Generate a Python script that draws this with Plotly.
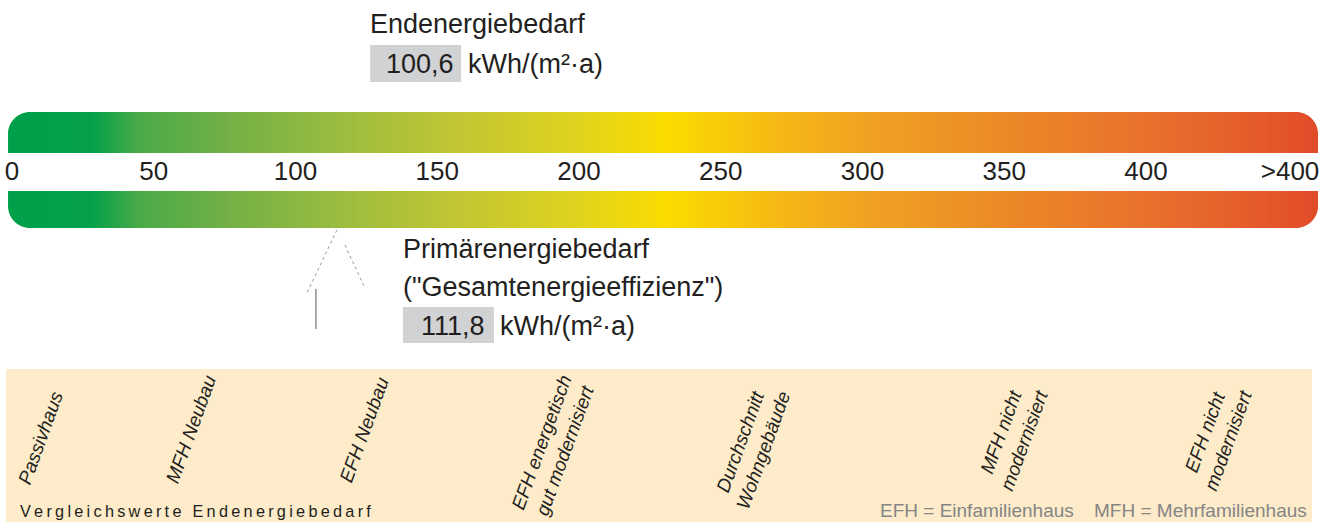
import numpy as np
import plotly.graph_objects as go

# ---------------- data ----------------
scale_ticks = [0, 50, 100, 150, 200, 250, 300, 350, 400, 450.8]
scale_tick_labels = ["0", "50", "100", "150", "200", "250", "300", "350", "400", ">400"]
scale_start = -1.4
scale_end = 460.7

ramp_values = [0, 28, 45, 75, 110, 150, 200, 231, 270, 300, 350, 400, 440, 460.7]
ramp_colors = ["#00A04B", "#05A14A", "#4AAA48", "#72B046", "#95BB40", "#BCC436", "#E1D31E",
               "#FBDC00", "#F6B914", "#F0A322", "#EC8927", "#E8712C", "#E55A2B", "#E14B28"]

end_energy = 100.6
end_energy_text = "100,6"
primary_energy = 111.8
primary_energy_text = "111,8"
unit_text = "kWh/(m²·a)"

compare_labels = ["Passivhaus", "MFH Neubau", "EFH Neubau",
                  "EFH energetisch<br>gut modernisiert", "Durchschnitt<br>Wohngebäude",
                  "MFH nicht<br>modernisiert", "EFH nicht<br>modernisiert"]
compare_values = [10, 63, 124, 191, 261, 353, 425]
compare_label_y = [437, 429, 430, 446, 446, 436, 436]

# ---------------- figure ----------------
W, H = 1322, 522
PX0, PXS = 12.0, 2.835
x_range = [-PX0 / PXS, (W - PX0) / PXS]
FONT = "Liberation Sans, Arial, Helvetica, sans-serif"
TXT = "#231F20"

fig = go.Figure()

# colour ramp as a heatmap (top bar, gap, bottom bar)
n = 1400
x_edges = np.linspace(scale_start, scale_end, n + 1)
x_mid = (x_edges[:-1] + x_edges[1:]) / 2
z = np.vstack([x_mid, np.full(n, np.nan), x_mid])
cs = [[(v - ramp_values[0]) / (ramp_values[-1] - ramp_values[0]), c] for v, c in zip(ramp_values, ramp_colors)]
fig.add_trace(go.Heatmap(x=x_edges, y=[112, 153, 191, 228], z=z, colorscale=cs,
                         zmin=ramp_values[0], zmax=ramp_values[-1], showscale=False,
                         hoverinfo="skip"))

# rounded corners (white masks)
rx, ry, k, e = 22 / PXS, 22, 0.5523, 2


def corner(xc, yc, sx, sy):
    p = (f"M {xc - sx*e/PXS},{yc - sy*e} L {xc + sx*rx},{yc - sy*e} L {xc + sx*rx},{yc} "
         f"C {xc + sx*rx*(1-k)},{yc} {xc},{yc + sy*ry*(1-k)} {xc},{yc + sy*ry} "
         f"L {xc - sx*e/PXS},{yc + sy*ry} Z")
    return dict(type="path", path=p, xref="x", yref="y", fillcolor="white",
                line=dict(width=0), layer="above")


shapes = [
    corner(scale_start, 112, 1, 1), corner(scale_end, 112, -1, 1),
    corner(scale_start, 228, 1, -1), corner(scale_end, 228, -1, -1),
    dict(type="rect", xref="paper", yref="y", x0=6 / W, x1=1312 / W, y0=369, y1=522,
         fillcolor="#FDEBC9", line=dict(width=0), layer="below"),
    dict(type="rect", xref="x", xsizemode="pixel", xanchor=end_energy, x0=73, x1=164,
         yref="y", y0=45, y1=82, fillcolor="#D1D2D4", line=dict(width=0)),
    dict(type="rect", xref="x", xsizemode="pixel", xanchor=primary_energy, x0=74, x1=165,
         yref="y", y0=307, y1=343, fillcolor="#D1D2D4", line=dict(width=0)),
    dict(type="line", xref="x", xsizemode="pixel", xanchor=primary_energy, x0=8, x1=-23,
         yref="y", y0=230, y1=295, line=dict(color="#9A9A9A", width=1, dash="dot")),
    dict(type="line", xref="x", xsizemode="pixel", xanchor=primary_energy, x0=16, x1=36,
         yref="y", y0=245, y1=288, line=dict(color="#9A9A9A", width=1, dash="dot")),
    dict(type="line", xref="x", xsizemode="pixel", xanchor=primary_energy, x0=-13, x1=-13,
         yref="y", y0=289, y1=329, line=dict(color="#555555", width=1)),
]

ann = []


def txt(x, y, s, size=27, xanchor="left", xshift=0, **kw):
    ann.append(dict(x=x, y=y, xref="x", yref="y", text=s, showarrow=False, xanchor=xanchor,
                    yanchor="middle", xshift=xshift,
                    font=dict(family=FONT, size=size, color=TXT), **kw))


txt(end_energy, 24, "Endenergiebedarf", xshift=71)
txt(end_energy, 64, end_energy_text, xanchor="center", xshift=123)
txt(end_energy, 64, unit_text, xshift=169)

txt(primary_energy, 249, "Primärenergiebedarf", xshift=72)
txt(primary_energy, 287, "(\"Gesamtenergieeffizienz\")", xshift=72)
txt(primary_energy, 326, primary_energy_text, xanchor="center", xshift=124)
txt(primary_energy, 326, unit_text, xshift=169)

for lab, v, yc in zip(compare_labels, compare_values, compare_label_y):
    ann.append(dict(x=v, y=yc, xref="x", yref="y", text=lab, showarrow=False,
                    xanchor="center", yanchor="middle", textangle=-70, align="center",
                    font=dict(family=FONT, size=19, color=TXT, style="italic")))

spaced = "\u2009".join("Vergleichswerte Endenergiebedarf")
ann.append(dict(x=18 / W, y=511, xref="paper", yref="y", text=spaced, showarrow=False,
                xanchor="left", yanchor="middle", font=dict(family=FONT, size=16.3, color=TXT)))
ann.append(dict(x=878 / W, y=510, xref="paper", yref="y", text="EFH = Einfamilienhaus",
                showarrow=False, xanchor="left", yanchor="middle",
                font=dict(family=FONT, size=19, color="#858585")))
ann.append(dict(x=1092 / W, y=510, xref="paper", yref="y", text="MFH = Mehrfamilienhaus",
                showarrow=False, xanchor="left", yanchor="middle",
                font=dict(family=FONT, size=19, color="#858585")))

fig.update_layout(
    width=W, height=H, margin=dict(l=0, r=0, t=0, b=0),
    paper_bgcolor="white", plot_bgcolor="rgba(0,0,0,0)",
    shapes=shapes, annotations=ann, showlegend=False,
    xaxis=dict(range=x_range, showgrid=False, zeroline=False, showline=False,
               tickvals=scale_ticks, ticktext=scale_tick_labels, ticks="",
               tickfont=dict(family=FONT, size=26, color=TXT),
               anchor="free", position=1 - 153 / H, fixedrange=True),
    yaxis=dict(range=[H, 0], visible=False, fixedrange=True),
)

fig.write_html("out.html", config={"displayModeBar": False},
               post_script="document.body.style.margin='0';document.body.style.overflow='hidden';")
